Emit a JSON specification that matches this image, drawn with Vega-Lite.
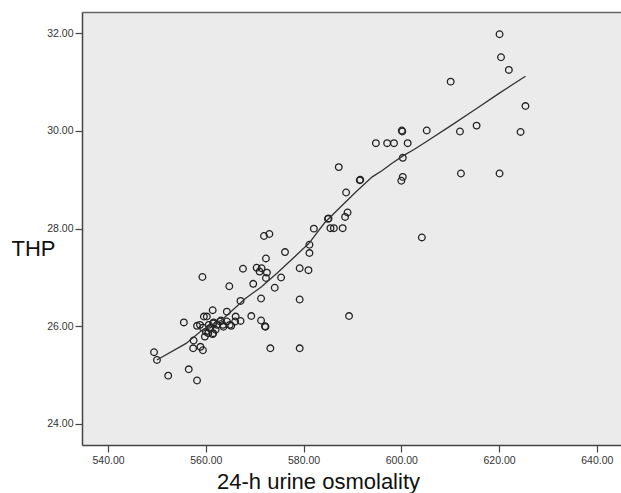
{
  "$schema": "https://vega.github.io/schema/vega-lite/v6.json",
  "width": 539,
  "height": 433,
  "autosize": {"type": "none"},
  "padding": {"left": 82, "top": 12, "right": 0, "bottom": 48},
  "background": "white",
  "config": {
    "view": {"fill": "#ebebeb", "stroke": null},
    "font": "Liberation Sans"
  },
  "resolve": {"axis": {"x": "independent"}},
  "datasets": {
    "pts": [
      {"osm": 620.1, "thp": 31.98}, {"osm": 620.4, "thp": 31.51}, {"osm": 622.0, "thp": 31.25},
      {"osm": 610.1, "thp": 31.01}, {"osm": 625.4, "thp": 30.51}, {"osm": 615.4, "thp": 30.11},
      {"osm": 612.0, "thp": 29.99}, {"osm": 624.4, "thp": 29.98}, {"osm": 605.2, "thp": 30.01},
      {"osm": 600.2, "thp": 29.99}, {"osm": 600.1, "thp": 30.01}, {"osm": 594.8, "thp": 29.75},
      {"osm": 597.1, "thp": 29.75}, {"osm": 598.5, "thp": 29.75}, {"osm": 601.3, "thp": 29.75},
      {"osm": 600.3, "thp": 29.45}, {"osm": 600.3, "thp": 29.06}, {"osm": 600.0, "thp": 28.98},
      {"osm": 612.2, "thp": 29.13}, {"osm": 620.1, "thp": 29.13}, {"osm": 587.2, "thp": 29.26},
      {"osm": 591.5, "thp": 28.99}, {"osm": 591.6, "thp": 29.0}, {"osm": 588.7, "thp": 28.74},
      {"osm": 589.0, "thp": 28.33}, {"osm": 588.5, "thp": 28.24}, {"osm": 585.0, "thp": 28.2},
      {"osm": 585.1, "thp": 28.21}, {"osm": 585.5, "thp": 28.01}, {"osm": 586.2, "thp": 28.01},
      {"osm": 588.0, "thp": 28.01}, {"osm": 582.1, "thp": 28.0}, {"osm": 604.2, "thp": 27.82},
      {"osm": 581.2, "thp": 27.67}, {"osm": 581.2, "thp": 27.5}, {"osm": 576.2, "thp": 27.52},
      {"osm": 571.9, "thp": 27.85}, {"osm": 573.0, "thp": 27.89}, {"osm": 572.3, "thp": 27.39},
      {"osm": 570.4, "thp": 27.2}, {"osm": 571.4, "thp": 27.19}, {"osm": 567.6, "thp": 27.18},
      {"osm": 572.5, "thp": 27.1}, {"osm": 571.0, "thp": 27.12}, {"osm": 572.3, "thp": 26.99},
      {"osm": 575.4, "thp": 27.0}, {"osm": 579.2, "thp": 27.19}, {"osm": 581.0, "thp": 27.15},
      {"osm": 559.3, "thp": 27.01}, {"osm": 564.8, "thp": 26.82}, {"osm": 569.7, "thp": 26.87},
      {"osm": 574.1, "thp": 26.79}, {"osm": 567.1, "thp": 26.52}, {"osm": 571.3, "thp": 26.57},
      {"osm": 579.2, "thp": 26.55}, {"osm": 589.3, "thp": 26.21}, {"osm": 569.3, "thp": 26.21},
      {"osm": 564.3, "thp": 26.3}, {"osm": 561.4, "thp": 26.33}, {"osm": 559.6, "thp": 26.2},
      {"osm": 560.2, "thp": 26.2}, {"osm": 566.1, "thp": 26.2}, {"osm": 571.3, "thp": 26.12},
      {"osm": 572.1, "thp": 26.0}, {"osm": 572.2, "thp": 25.99}, {"osm": 567.1, "thp": 26.11},
      {"osm": 555.5, "thp": 26.08}, {"osm": 558.2, "thp": 26.01}, {"osm": 565.2, "thp": 26.01},
      {"osm": 563.1, "thp": 26.12}, {"osm": 561.6, "thp": 26.08}, {"osm": 562.3, "thp": 26.03},
      {"osm": 563.5, "thp": 26.03}, {"osm": 560.6, "thp": 26.03}, {"osm": 559.4, "thp": 25.97},
      {"osm": 560.8, "thp": 25.96}, {"osm": 560.0, "thp": 25.89}, {"osm": 561.4, "thp": 25.84},
      {"osm": 562.0, "thp": 25.93}, {"osm": 559.8, "thp": 25.79}, {"osm": 557.5, "thp": 25.71},
      {"osm": 557.4, "thp": 25.55}, {"osm": 558.9, "thp": 25.58}, {"osm": 559.4, "thp": 25.51},
      {"osm": 573.2, "thp": 25.55}, {"osm": 579.2, "thp": 25.55}, {"osm": 549.4, "thp": 25.47},
      {"osm": 550.0, "thp": 25.31}, {"osm": 552.3, "thp": 24.99}, {"osm": 556.5, "thp": 25.12},
      {"osm": 558.2, "thp": 24.89}, {"osm": 564.3, "thp": 26.1}, {"osm": 562.9, "thp": 26.1},
      {"osm": 561.5, "thp": 26.06}, {"osm": 558.8, "thp": 26.03}, {"osm": 560.9, "thp": 25.96},
      {"osm": 560.5, "thp": 25.86}, {"osm": 561.5, "thp": 25.86}, {"osm": 563.6, "thp": 25.99},
      {"osm": 564.9, "thp": 26.03}, {"osm": 566.0, "thp": 26.1}
    ],
    "fit": [
      {"osm": 549.97, "thp": 25.31}, {"osm": 555.96, "thp": 25.65}, {"osm": 559.2, "thp": 25.92},
      {"osm": 563.26, "thp": 26.13}, {"osm": 568.1, "thp": 26.57}, {"osm": 571.4, "thp": 26.81},
      {"osm": 574.6, "thp": 27.09}, {"osm": 577.8, "thp": 27.39}, {"osm": 581.1, "thp": 27.7},
      {"osm": 584.3, "thp": 28.12}, {"osm": 587.6, "thp": 28.45}, {"osm": 590.8, "thp": 28.76},
      {"osm": 594.05, "thp": 29.06}, {"osm": 596.1, "thp": 29.19}, {"osm": 598.1, "thp": 29.34},
      {"osm": 600.5, "thp": 29.5}, {"osm": 602.6, "thp": 29.62}, {"osm": 605.4, "thp": 29.8},
      {"osm": 610.3, "thp": 30.12}, {"osm": 615.1, "thp": 30.44}, {"osm": 620.0, "thp": 30.77},
      {"osm": 625.4, "thp": 31.12}
    ]
  },
  "layer": [
    {
      "data": {"name": "pts"},
      "mark": {"type": "point", "shape": "circle", "filled": false, "size": 44, "stroke": "#222222", "strokeWidth": 1.3, "opacity": 1},
      "encoding": {
        "x": {
          "field": "osm", "type": "quantitative",
          "scale": {"domain": [534.66, 644.95], "nice": false, "zero": false},
          "axis": {
            "values": [540, 560, 580, 600, 620, 640], "format": ".2f",
            "title": "24-h urine osmolality", "titleFontSize": 22, "titleFontWeight": "normal",
            "titleColor": "#111111", "titleX": 236, "titleY": 43, "titleAlign": "center",
            "titleBaseline": "alphabetic", "grid": false,
            "domainColor": "#444444", "domainWidth": 1.5, "tickColor": "#444444",
            "tickSize": 7, "tickWidth": 1.2, "labelFontSize": 10.5, "labelColor": "#333333",
            "labelPadding": 3, "labelFlush": false
          }
        },
        "y": {
          "field": "thp", "type": "quantitative",
          "scale": {"domain": [23.57, 32.436], "nice": false, "zero": false},
          "axis": {
            "values": [24, 26, 28, 30, 32], "format": ".2f",
            "title": "THP", "titleAngle": 0, "titleFontSize": 22, "titleFontWeight": "normal",
            "titleColor": "#111111", "titleX": -49, "titleY": 243, "titleAlign": "center",
            "titleBaseline": "alphabetic", "grid": false,
            "domainColor": "#444444", "domainWidth": 1.5, "tickColor": "#444444",
            "tickSize": 7, "tickWidth": 1.2, "labelFontSize": 10.5, "labelColor": "#333333",
            "labelPadding": 2
          }
        }
      }
    },
    {
      "data": {"name": "fit"},
      "mark": {"type": "line", "color": "#333333", "strokeWidth": 1.3},
      "encoding": {
        "x": {
          "field": "osm", "type": "quantitative",
          "axis": {"orient": "top", "labels": false, "ticks": false, "title": null, "grid": false, "domainColor": "#666666", "domainWidth": 1.5}
        },
        "y": {"field": "thp", "type": "quantitative"}
      }
    }
  ]
}
